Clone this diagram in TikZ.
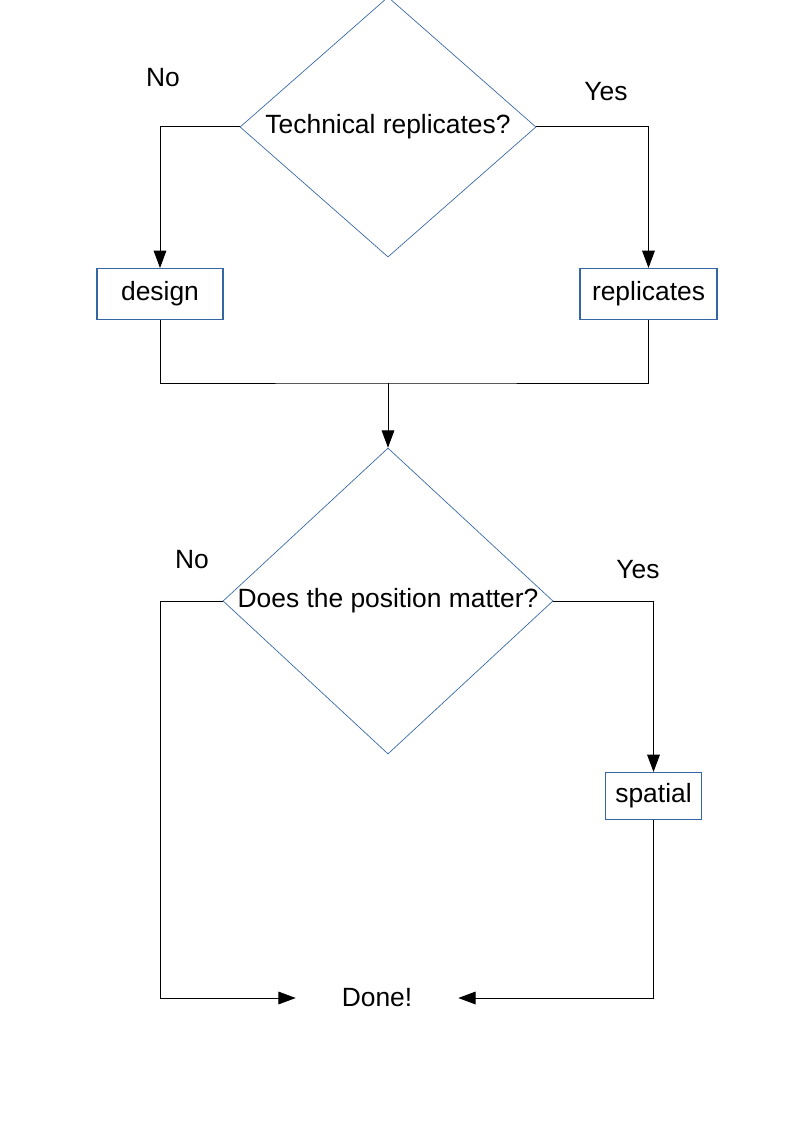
\documentclass[tikz,border=0pt]{standalone}
\usepackage{fontspec}
\setmainfont{Liberation Sans}
\usepackage{xcolor}
\usepackage{tikz}
\usetikzlibrary{shapes.geometric, arrows.meta, positioning, calc}
\definecolor{boxblue}{HTML}{3465A4}

\begin{document}
\begin{tikzpicture}[
    x=0.75pt, y=-0.75pt,
    font=\fontsize{19.8}{23}\selectfont,
    % styles
    decision/.style={
        draw=boxblue, line width=0.5pt, diamond, inner sep=0pt, align=center
    },
    outcome/.style={
        draw=boxblue, line width=0.8pt, rectangle, inner sep=0pt,
        minimum height=38.25pt, align=center
    },
    answer/.style={
        inner sep=0pt, anchor=center
    },
    link/.style={
        draw=black, line width=0.75pt
    },
    flow/.style={
        link, -{Triangle[length=13pt, width=9.5pt]}
    }
]
    \useasboundingbox (0,0) rectangle (794,1123);

    % --- 1. FIRST QUESTION ---
    \node[decision, minimum width=222pt, minimum height=195pt, shape aspect=1.14] (q_tech) at (388,127) {Technical replicates?};
    \node[answer] (no_tech) at (163,78) {No};
    \node[answer] (yes_tech) at (606,92) {Yes};

    \node[outcome, minimum width=94.5pt] (design) at (160,294) {design};
    \node[outcome, minimum width=102.75pt] (replicates) at (648.5,294) {replicates};

    \draw[flow] (q_tech.west) -| (design.north);
    \draw[flow] (q_tech.east) -| (replicates.north);

    % merge both branches
    \coordinate (merge) at (388,383);
    \draw[link] (design.south) |- (merge) -| (replicates.south);

    % --- 2. SECOND QUESTION ---
    \node[decision, minimum width=247.5pt, minimum height=229.5pt, shape aspect=1.08] (q_pos) at (388,601) {Does the position matter?};
    \node[answer] (no_pos) at (192,560) {No};
    \node[answer] (yes_pos) at (638,570) {Yes};

    \draw[flow] (merge) -- (q_pos.north);

    \node[outcome, minimum width=72pt, minimum height=35.25pt] (spatial) at (653.5,796) {spatial};

    % --- 3. END ---
    \node[answer, minimum width=121.5pt] (done) at (377,998) {Done!};

    \draw[flow] (q_pos.east) -| (spatial.north);
    \draw[flow] (q_pos.west) -| (done.west -| design.south) -- (done.west);
    \draw[flow] (spatial.south) |- (done.east);

\end{tikzpicture}
\end{document}
